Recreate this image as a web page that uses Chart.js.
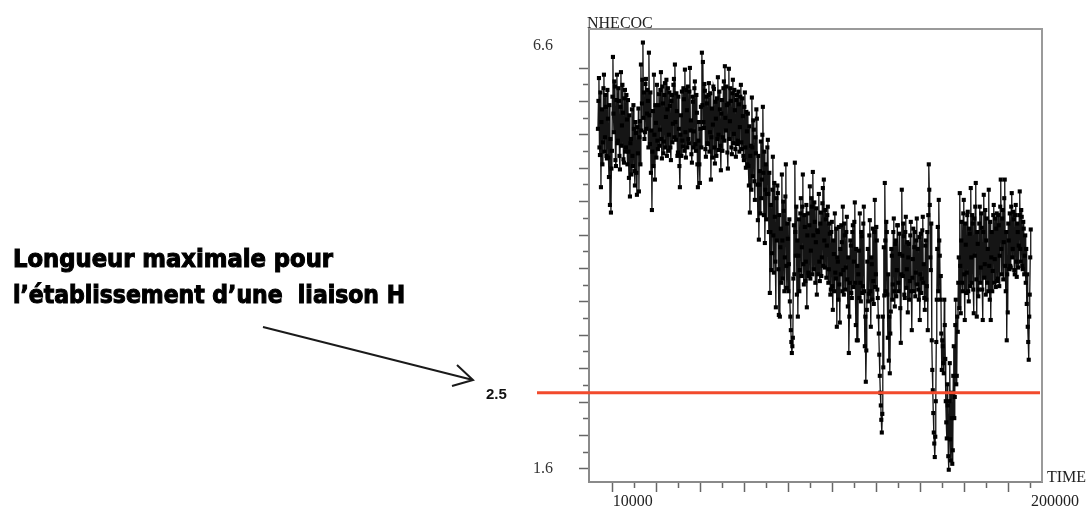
<!DOCTYPE html>
<html>
<head>
<meta charset="utf-8">
<script src="https://cdn.jsdelivr.net/npm/chart.js@4.4.0/dist/chart.umd.min.js"></script>
<style>
    html, body { margin: 0; padding: 0; background: #fff; }
</style>
</head>
<body>
<canvas id="nhecoc_Chart" width="1087" height="508"></canvas>
<script>
// temps du premier point et pas entre deux points (ps)
const timeStart = 3300;
const timeStep = 227;

// distance NHECOC (Å)
const distValues = [
    5.62, 5.95, 6.22, 5.40, 5.31, 6.05, 4.93, 5.70, 5.85, 5.20, 5.46, 6.10, 6.26, 5.35, 5.52, 6.02, 5.88, 5.30, 5.27, 6.08,
    5.74, 5.28, 5.05, 5.90, 4.72, 5.50, 4.63, 5.15, 5.36, 6.00, 6.47, 5.80, 5.58, 6.18, 6.12, 5.25, 5.18, 5.96, 6.26, 5.45,
    5.48, 6.10, 5.95, 5.30, 5.14, 5.88, 6.29, 5.42, 5.66, 6.14, 5.81, 5.26, 5.22, 5.98, 6.08, 5.35, 5.40, 6.02, 5.73, 5.20,
    5.96, 5.35, 5.04, 5.78, 4.82, 5.45, 5.50, 5.08, 5.85, 5.30, 5.18, 5.90, 5.62, 5.12, 4.95, 5.70, 5.57, 5.10, 4.84, 5.64,
    5.33, 5.86, 4.88, 5.52, 5.71, 5.20, 6.38, 5.60, 5.92, 6.20, 6.64, 5.75, 6.05, 5.50, 5.58, 6.15, 6.21, 5.62, 5.80, 6.08,
    5.95, 5.40, 6.52, 5.78, 5.44, 6.05, 5.10, 5.60, 4.66, 5.35, 5.83, 5.18, 6.26, 5.55, 5.02, 5.90, 5.69, 5.28, 6.14, 5.48,
    5.38, 5.90, 6.03, 5.42, 5.61, 6.08, 6.29, 5.50, 5.27, 6.12, 5.92, 5.33, 5.47, 6.02, 6.16, 5.40, 5.76, 6.20, 5.30, 5.85,
    6.10, 5.36, 5.55, 6.05, 5.89, 5.40, 5.25, 5.95, 6.02, 5.46, 5.68, 6.14, 6.21, 5.52, 6.38, 5.70, 5.49, 6.04, 5.83, 5.30,
    5.34, 6.00, 5.62, 5.18, 4.93, 5.55, 5.78, 5.30, 6.06, 5.48, 5.41, 6.10, 5.97, 5.36, 6.32, 5.58, 5.28, 6.08, 5.84, 5.40,
    6.12, 5.50, 5.45, 6.06, 6.34, 5.60, 5.72, 5.32, 5.22, 6.00, 5.94, 5.40, 5.59, 6.10, 6.18, 5.44, 5.36, 6.02, 5.81, 5.20,
    4.93, 5.48, 5.70, 5.20, 4.98, 5.62, 5.88, 5.40, 6.52, 5.90, 6.41, 5.70, 5.63, 6.15, 6.07, 5.38, 5.29, 6.00, 5.92, 5.45,
    5.44, 6.02, 6.16, 5.35, 5.58, 6.04, 5.02, 5.52, 5.86, 5.28, 5.67, 6.12, 6.09, 5.40, 5.21, 5.94, 5.74, 5.30, 5.98, 5.50,
    6.23, 5.55, 5.37, 6.06, 5.85, 5.42, 5.13, 5.80, 5.96, 5.36, 5.52, 6.10, 6.18, 5.48, 6.36, 5.75, 5.60, 6.12, 5.90, 5.34,
    5.15, 5.92, 6.33, 5.50, 5.71, 6.10, 5.95, 5.40, 5.32, 6.04, 6.20, 5.45, 5.56, 6.08, 5.84, 5.38, 5.29, 5.96, 6.02, 5.44,
    5.48, 6.06, 5.91, 5.35, 5.64, 6.00, 6.14, 5.46, 5.38, 5.98, 5.77, 5.30, 5.25, 5.88, 6.05, 5.40, 5.16, 5.82, 5.59, 5.20,
    5.80, 5.18, 4.95, 5.65, 4.63, 5.30, 5.42, 4.90, 5.99, 5.40, 5.06, 5.72, 5.61, 5.00, 4.78, 5.52, 5.33, 5.85, 5.74, 4.96,
    4.54, 5.30, 4.31, 4.96, 5.12, 4.62, 5.47, 4.80, 5.02, 5.55, 5.88, 5.10, 4.60, 5.35, 4.27, 4.90, 5.20, 4.55, 4.85, 5.40,
    5.49, 4.85, 4.40, 5.10, 3.68, 4.40, 4.72, 3.95, 4.15, 4.90, 5.29, 4.36, 3.92, 4.98, 4.58, 4.05, 3.51, 4.80, 4.30, 4.95,
    4.86, 3.96, 3.42, 4.60, 3.40, 4.22, 4.44, 3.80, 5.08, 4.30, 3.85, 4.76, 4.65, 3.70, 4.10, 4.82, 5.20, 4.00, 3.74, 4.50,
    4.32, 3.70, 4.02, 4.55, 3.58, 3.40, 3.24, 3.10, 2.97, 3.05, 3.15, 3.85, 4.48, 3.90, 5.22, 4.40, 4.12, 4.70, 3.66, 4.30,
    3.40, 4.12, 4.55, 3.70, 3.95, 4.62, 4.80, 3.88, 4.22, 4.70, 5.08, 4.02, 3.78, 4.60, 4.46, 3.82, 4.05, 4.72, 3.51, 4.36,
    4.62, 3.92, 3.88, 4.48, 4.94, 3.85, 4.18, 4.80, 4.70, 3.90, 5.11, 4.36, 3.96, 4.75, 4.52, 3.80, 4.28, 4.68, 3.66, 4.42,
    4.40, 3.90, 4.85, 4.05, 3.82, 4.50, 4.63, 3.88, 4.10, 4.74, 4.92, 4.00, 5.02, 4.30, 3.98, 4.66, 4.55, 3.86, 4.24, 4.60,
    4.70, 3.80, 3.96, 4.50, 4.38, 3.66, 3.72, 4.40, 4.52, 3.76, 3.48, 4.30, 4.14, 3.70, 4.62, 3.92, 3.85, 4.44, 3.28, 4.10,
    4.05, 3.60, 4.46, 3.78, 3.33, 4.20, 3.90, 4.48, 4.28, 3.70, 4.70, 3.95, 3.66, 4.50, 4.36, 3.72, 3.98, 4.40, 4.58, 3.84,
    3.52, 4.10, 2.97, 3.40, 3.80, 4.30, 4.24, 3.68, 3.62, 4.40, 4.48, 3.75, 4.05, 4.52, 4.75, 3.80, 3.30, 4.20, 3.12, 4.00,
    3.12, 3.90, 4.18, 3.62, 4.62, 3.80, 3.58, 4.40, 4.35, 3.68, 3.76, 4.50, 4.70, 3.70, 3.05, 3.40, 2.63, 3.00, 3.48, 4.05,
    4.20, 3.58, 3.67, 4.36, 4.54, 3.70, 3.28, 4.10, 4.02, 3.60, 4.44, 3.82, 3.55, 4.40, 4.78, 3.75, 3.90, 4.46, 4.30, 3.72,
    3.62, 3.40, 3.20, 2.95, 2.70, 2.50, 2.35, 2.18, 2.03, 2.25, 3.40, 2.80, 4.22, 3.65, 4.98, 4.30, 3.70, 4.52, 4.40, 3.66,
    3.15, 3.90, 2.88, 3.40, 2.73, 3.20, 3.46, 4.20, 4.12, 3.60, 3.78, 4.40, 4.56, 3.70, 3.52, 4.26, 4.30, 3.64, 3.95, 4.48,
    4.48, 3.80, 3.70, 4.38, 4.14, 3.50, 3.09, 3.90, 4.90, 4.12, 3.88, 4.50, 4.35, 3.66, 3.62, 4.40, 4.58, 3.74, 3.96, 4.28,
    3.45, 4.10, 4.26, 3.60, 3.82, 4.36, 4.52, 3.70, 3.24, 3.86, 4.08, 4.44, 3.70, 4.22, 4.40, 3.64, 3.92, 4.30, 4.56, 3.78,
    4.20, 3.72, 3.60, 4.34, 3.36, 3.90, 4.38, 3.68, 3.85, 4.42, 4.58, 3.80, 4.02, 3.62, 3.48, 4.24, 4.30, 3.60, 3.76, 4.40,
    3.24, 4.60, 5.20, 4.90, 4.72, 4.10, 3.95, 4.50, 3.12, 2.77, 2.53, 2.26, 2.03, 1.90, 1.74, 1.98, 2.40, 3.10, 3.60, 4.20,
    4.46, 3.70, 4.78, 4.30, 4.12, 3.60, 3.88, 3.20, 2.77, 3.12, 3.05, 2.85, 2.73, 3.60, 3.30, 2.90, 2.40, 2.15, 1.96, 2.60,
    2.35, 1.75, 1.59, 2.40, 2.85, 1.95, 1.70, 2.50, 2.20, 1.66, 1.82, 2.70, 3.05, 2.20, 2.45, 3.30, 3.60, 2.60, 2.70, 3.40,
    3.22, 3.80, 4.10, 3.50, 4.86, 4.00, 3.44, 4.30, 4.52, 3.80, 3.70, 4.62, 4.78, 3.90, 3.36, 4.50, 4.25, 3.68, 3.92, 4.60,
    4.64, 3.70, 3.58, 4.44, 4.38, 3.76, 4.92, 4.10, 3.80, 4.60, 4.50, 3.72, 3.44, 4.56, 4.12, 4.70, 4.98, 3.84, 3.40, 4.40,
    4.26, 3.64, 3.72, 4.50, 4.70, 3.80, 3.98, 4.62, 4.45, 3.72, 3.36, 4.40, 4.84, 3.86, 4.02, 4.66, 3.66, 4.30, 4.56, 3.80,
    4.20, 3.70, 4.90, 4.00, 3.60, 4.52, 3.36, 4.10, 4.40, 3.70, 3.94, 4.60, 4.72, 3.80, 4.08, 4.56, 3.75, 4.44, 4.62, 3.82,
    3.85, 4.60, 4.48, 3.76, 4.12, 4.70, 5.02, 4.20, 3.90, 4.56, 4.66, 3.84, 4.28, 4.80, 5.02, 4.00, 3.70, 4.40, 3.12, 3.90,
    3.45, 4.50, 4.30, 3.96, 4.62, 4.00, 3.98, 4.70, 4.86, 4.10, 4.20, 4.64, 4.55, 3.95, 3.90, 4.60, 4.72, 4.05, 3.87, 4.50,
    4.40, 3.98, 4.24, 4.60, 4.88, 4.20, 4.05, 4.66, 4.58, 4.00, 3.96, 4.52, 4.44, 3.90, 4.12, 4.36, 3.80, 4.20, 3.55, 3.90,
    3.28, 3.10, 2.89, 3.40, 3.66, 4.10, 4.43
];

// graduations de l'axe des temps
const xTickValues = [10000, 20000, 30000, 40000, 50000, 60000, 70000, 80000, 90000, 100000,
    110000, 120000, 130000, 140000, 150000, 160000, 170000, 180000, 190000, 200000];
const xTickLabels = { 10000: '10000', 200000: '200000' };

// graduations de l'axe des distances
const yMajorTicks = [1.6, 1.995, 2.39, 2.784, 3.179, 3.574, 3.969, 4.364, 4.758, 5.153, 5.548, 5.943, 6.338];
const yMinorTicks = [1.797, 2.192, 2.587, 2.982, 3.376, 3.771, 4.166, 4.561, 4.956, 5.35, 5.745, 6.14];
const yLabelOnly = [6.6];
const yTickLabels = { 6.6: '6.6', 1.6: '1.6' };

// seuil de la liaison H
const seuilH = 2.5;
const seuilLabel = '2.5';
const seuilSpan = [-24380, 204090];

const annotationLines = ['Longueur maximale pour', 'l\u2019\u00e9tablissement d\u2019une  liaison H'];

const serif = '"Liberation Serif", "Times New Roman", serif';

const decorPlugin = {
    id: 'decor',
    afterDraw(chart) {
        const ctx = chart.ctx;
        const area = chart.chartArea;
        const yScale = chart.scales.y;
        ctx.save();

        // cadre haut et droite
        ctx.strokeStyle = '#9a9a9a';
        ctx.lineWidth = 2;
        ctx.beginPath();
        ctx.moveTo(area.left, area.top);
        ctx.lineTo(area.right, area.top);
        ctx.lineTo(area.right, area.bottom);
        ctx.stroke();

        // titres des axes
        ctx.fillStyle = '#222';
        ctx.font = '16px ' + serif;
        ctx.textBaseline = 'alphabetic';
        ctx.textAlign = 'left';
        ctx.fillText('NHECOC', area.left - 2, 28);
        ctx.fillText('TIME', area.right + 5, area.bottom);

        // valeur du seuil
        const ySeuil = yScale.getPixelForValue(seuilH);
        ctx.fillStyle = '#111';
        ctx.font = 'bold 15px "Liberation Sans", Arial, sans-serif';
        ctx.textBaseline = 'middle';
        ctx.fillText(seuilLabel, 486, ySeuil + 2);

        // texte d'annotation
        ctx.fillStyle = '#000';
        ctx.strokeStyle = '#000';
        ctx.lineWidth = 1;
        ctx.textBaseline = 'alphabetic';
        ctx.font = 'bold 24px "Liberation Sans Narrow", "DejaVu Sans Condensed", "Liberation Sans", sans-serif';
        const targets = [[13, 267, 320], [13, 303, 392]];
        annotationLines.forEach((txt, i) => {
            const [tx, ty, tw] = targets[i];
            const w = ctx.measureText(txt).width;
            ctx.save();
            ctx.translate(tx, ty);
            ctx.scale(tw / w, 1);
            ctx.fillText(txt, 0, 0);
            ctx.strokeText(txt, 0, 0);
            ctx.restore();
        });

        // fleche
        ctx.strokeStyle = '#1a1a1a';
        ctx.lineWidth = 2;
        ctx.beginPath();
        ctx.moveTo(263, 327);
        ctx.lineTo(473, 380);
        ctx.moveTo(457, 365);
        ctx.lineTo(473, 380);
        ctx.lineTo(452, 386);
        ctx.stroke();

        ctx.restore();
    }
};

document.addEventListener('DOMContentLoaded', (event) => {
    const points = distValues.map((v, i) => ({ x: timeStart + i * timeStep, y: v }));
    const ctx_dist = document.getElementById('nhecoc_Chart').getContext('2d');
    new Chart(ctx_dist, {
        type: 'line',
        data: {
            datasets: [{
                data: [{ x: seuilSpan[0], y: seuilH }, { x: seuilSpan[1], y: seuilH }],
                borderColor: '#f24a2c',
                borderWidth: 3,
                pointRadius: 0,
                clip: false
            }, {
                data: points,
                borderColor: '#151515',
                borderWidth: 1.3,
                pointStyle: 'rect',
                pointRadius: 2.9,
                pointBackgroundColor: '#000',
                pointBorderColor: '#000',
                pointBorderWidth: 0,
                tension: 0
            }]
        },
        options: {
            responsive: false,
            animation: false,
            events: [],
            layout: {
                padding: { top: 29, right: 45, left: 0, bottom: 0 }
            },
            plugins: {
                legend: { display: false },
                title: { display: false },
                tooltip: { enabled: false }
            },
            scales: {
                x: {
                    type: 'linear',
                    min: -760,
                    max: 205000,
                    afterBuildTicks: (scale) => {
                        scale.ticks = xTickValues.map(v => ({ value: v }));
                    },
                    afterFit: (scale) => {
                        scale.height = 26;
                        scale.paddingLeft = 0;
                        scale.paddingRight = 0;
                    },
                    border: { display: true, color: '#8a8a8a', width: 2 },
                    grid: {
                        drawOnChartArea: false,
                        drawTicks: true,
                        tickLength: 10,
                        tickWidth: 1.5,
                        tickColor: '#666',
                        tickBorderDash: (c) => (xTickValues.indexOf(c.tick.value) % 2 === 1 ? [5, 30] : [])
                    },
                    ticks: {
                        autoSkip: false,
                        maxRotation: 0,
                        align: 'start',
                        padding: 0,
                        color: '#222',
                        font: { family: serif, size: 16 },
                        callback: (value) => xTickLabels[value] || ''
                    }
                },
                y: {
                    type: 'linear',
                    min: 1.445,
                    max: 6.8,
                    afterBuildTicks: (scale) => {
                        scale.ticks = yMajorTicks.concat(yMinorTicks, yLabelOnly)
                            .sort((a, b) => a - b)
                            .map(v => ({ value: v }));
                    },
                    afterFit: (scale) => {
                        scale.width = 589;
                        scale.paddingTop = 0;
                        scale.paddingBottom = 0;
                    },
                    border: { display: true, color: '#8a8a8a', width: 2 },
                    grid: {
                        drawOnChartArea: false,
                        drawTicks: true,
                        tickLength: 10,
                        tickWidth: 1.5,
                        tickColor: (c) => (yLabelOnly.includes(c.tick.value) ? 'rgba(0,0,0,0)' : '#666'),
                        tickBorderDash: (c) => (yMinorTicks.includes(c.tick.value) ? [0, 4, 6, 30] : [])
                    },
                    ticks: {
                        autoSkip: false,
                        padding: 26,
                        color: '#333',
                        font: { family: serif, size: 16 },
                        callback: (value) => yTickLabels[value] || ''
                    }
                }
            }
        },
        plugins: [decorPlugin]
    });
});
</script>
</body>
</html>
